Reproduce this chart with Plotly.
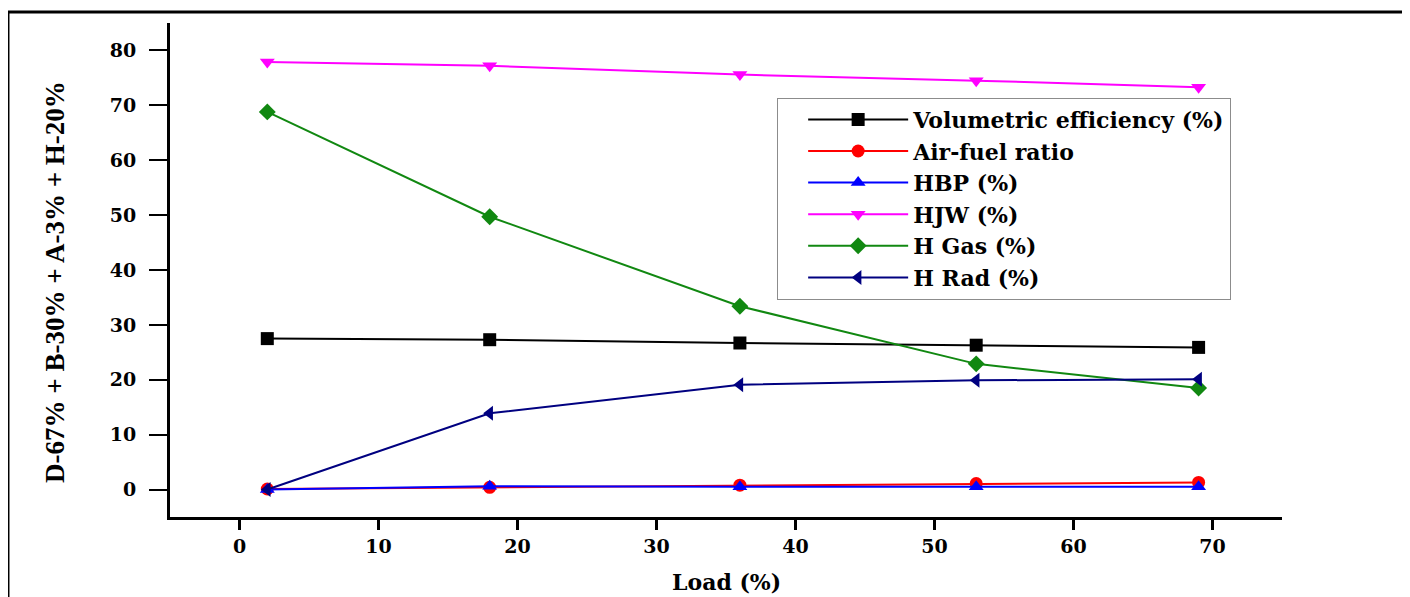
import plotly.graph_objects as go

load = [2, 18, 36, 53, 69]
vol_eff = [27.5, 27.3, 26.7, 26.3, 25.9]
air_fuel = [0.1, 0.4, 0.8, 1.1, 1.3]
hbp = [0.0, 0.6, 0.5, 0.5, 0.5]
hjw = [77.9, 77.2, 75.6, 74.5, 73.3]
h_gas = [68.8, 49.7, 33.4, 22.9, 18.5]
h_rad = [0.0, 13.9, 19.1, 19.9, 20.1]

series = [
    ("Volumetric efficiency (%)", vol_eff, "#000000", "square"),
    ("Air-fuel ratio", air_fuel, "#ff0000", "circle"),
    ("HBP (%)", hbp, "#0000ff", "triangle-up"),
    ("HJW (%)", hjw, "#ff00ff", "triangle-down"),
    ("H Gas (%)", h_gas, "#118811", "diamond"),
    ("H Rad (%)", h_rad, "#000080", "triangle-left"),
]

xticks = [0, 10, 20, 30, 40, 50, 60, 70]
yticks = [0, 10, 20, 30, 40, 50, 60, 70, 80]

BOLD = "DejaVu Serif"

fig = go.Figure()
for name, vals, color, sym in series:
    fig.add_trace(go.Scatter(
        x=load, y=vals, name=name, mode="lines+markers",
        line=dict(color=color, width=2),
        marker=dict(symbol=sym, size=13, color=color),
    ))

fig.update_layout(
    width=1402, height=589,
    margin=dict(l=162, r=128, t=15, b=80),
    paper_bgcolor="white", plot_bgcolor="white",
    showlegend=True,
    legend=dict(
        x=0.546, y=0.849, xanchor="left", yanchor="top",
        bordercolor="#8c8c8c", borderwidth=1, bgcolor="white",
        font=dict(family=BOLD, size=22, color="#000000", weight="bold"),
        itemwidth=100, indentation=25, tracegroupgap=0,
    ),
    font=dict(family=BOLD, color="#000000"),
    xaxis=dict(
        range=[-5, 75], tickvals=xticks, ticktext=[str(t) for t in xticks],
        showgrid=False, zeroline=False, showline=True, linecolor="#000000", linewidth=3,
        ticks="outside", ticklen=10, tickwidth=3, tickcolor="#000000",
        ticklabelstandoff=0,
        tickfont=dict(family=BOLD, size=19, color="#000000", weight="bold"),
    ),
    yaxis=dict(
        range=[-5, 85], tickvals=yticks, ticktext=[str(t) for t in yticks],
        showgrid=False, zeroline=False, showline=True, linecolor="#000000", linewidth=3,
        ticks="outside", ticklen=18, tickwidth=2, tickcolor="#000000",
        ticklabelstandoff=9,
        tickfont=dict(family=BOLD, size=19, color="#000000", weight="bold"),
    ),
    annotations=[
        dict(text="Load (%)", xref="paper", yref="paper", x=0.5, y=-0.132,
             xanchor="center", yanchor="middle", showarrow=False,
             font=dict(family=BOLD, size=22, color="#000000", weight="bold")),
        dict(text="D-67% + B-30% + A-3% + H-20%", xref="paper", yref="paper",
             x=-0.1034, y=0.476, xanchor="center", yanchor="middle", textangle=-90,
             showarrow=False,
             font=dict(family="Liberation Serif", size=27, color="#000000", weight="bold")),
    ],
    shapes=[
        dict(type="rect", xref="paper", yref="paper",
             x0=-0.1457, x1=1.1097, y0=-0.25, y1=1.0223,
             line=dict(color="#000000", width=3), fillcolor="rgba(0,0,0,0)", layer="below"),
    ],
)

fig.write_html("out.html")
